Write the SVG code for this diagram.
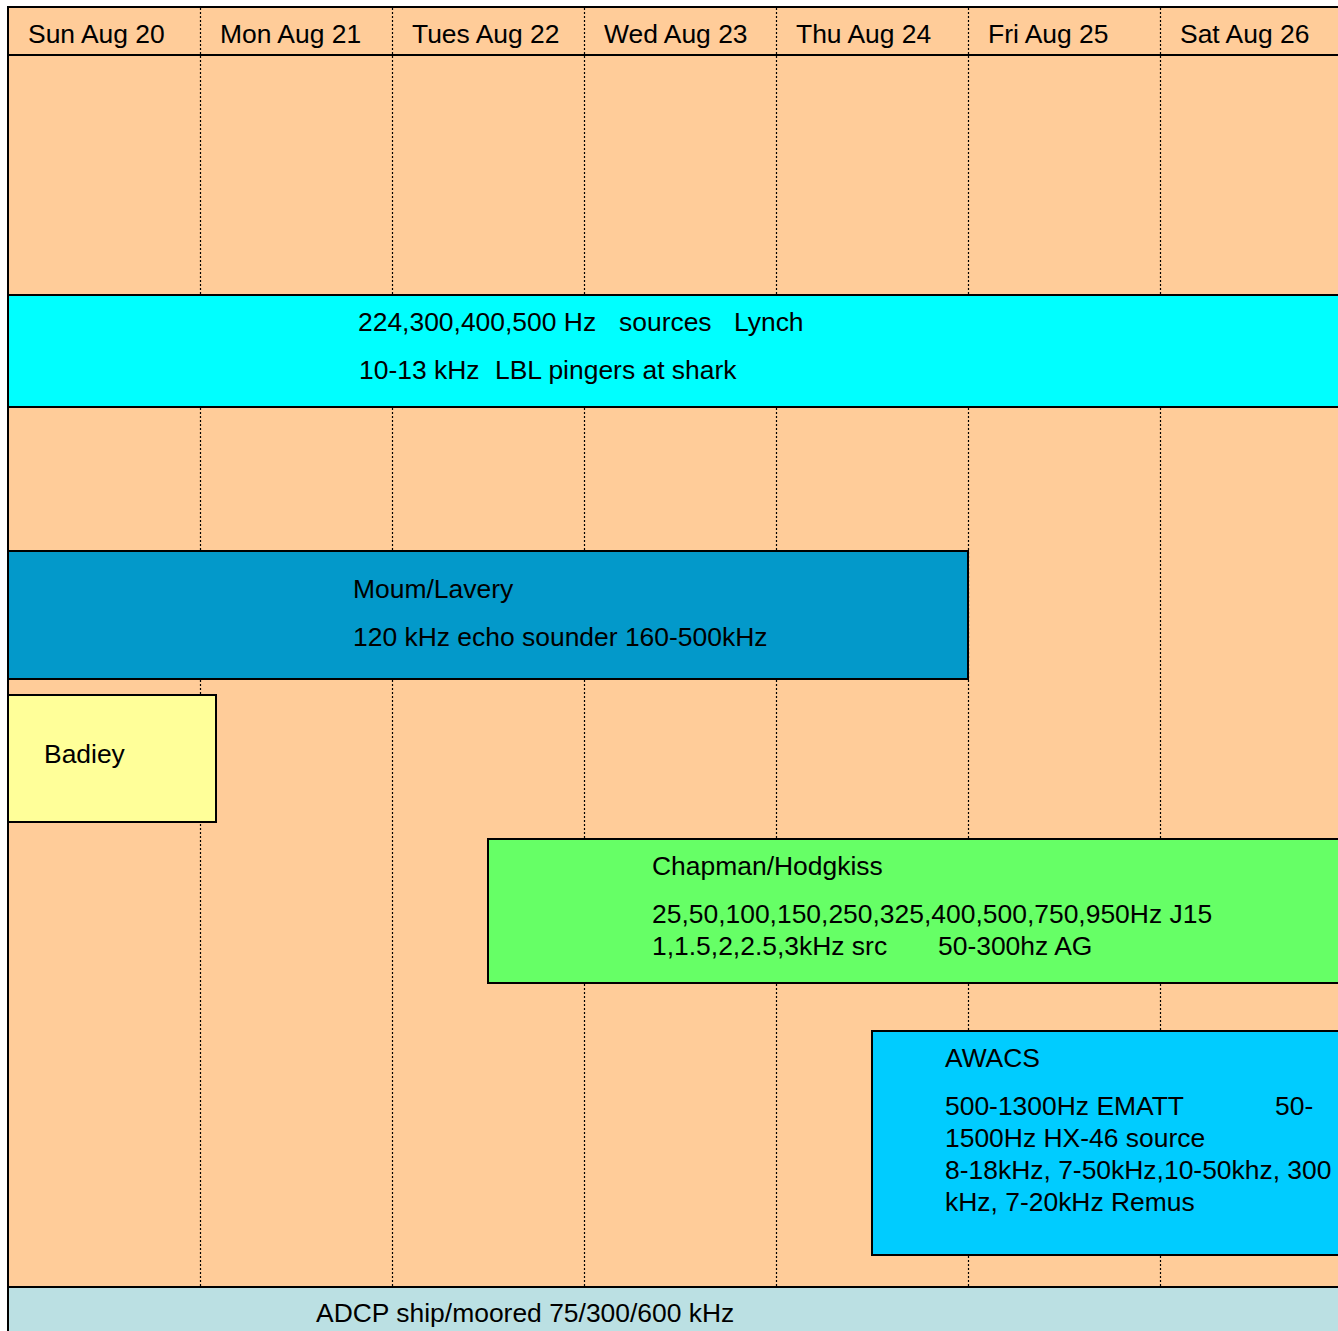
<svg xmlns="http://www.w3.org/2000/svg" width="1338" height="1331" viewBox="0 0 1338 1331">
<style>
text{font-family:"Liberation Sans",Arial,sans-serif;font-size:26.45px;fill:#000}
.grid{stroke:#000;stroke-width:1.2;stroke-dasharray:2,2;fill:none}
.box{stroke:#000;stroke-width:2}
</style>
<rect x="0" y="0" width="1338" height="1331" fill="#fff"/>
<rect id="background" x="8" y="7" width="1340" height="1330" fill="#FFCC99" stroke="#000" stroke-width="2"/>
<g id="gridlines">
<line class="grid" x1="200.5" y1="8" x2="200.5" y2="1287"/>
<line class="grid" x1="392.5" y1="8" x2="392.5" y2="1287"/>
<line class="grid" x1="584.5" y1="8" x2="584.5" y2="1287"/>
<line class="grid" x1="776.5" y1="8" x2="776.5" y2="1287"/>
<line class="grid" x1="968.5" y1="8" x2="968.5" y2="1287"/>
<line class="grid" x1="1160.5" y1="8" x2="1160.5" y2="1287"/>
</g>
<line x1="8" y1="55" x2="1338" y2="55" stroke="#000" stroke-width="2"/>
<g id="header">
<text x="28" y="43">Sun Aug 20</text>
<text x="220" y="43">Mon Aug 21</text>
<text x="412" y="43">Tues Aug 22</text>
<text x="604" y="43">Wed Aug 23</text>
<text x="796" y="43">Thu Aug 24</text>
<text x="988" y="43">Fri Aug 25</text>
<text x="1180" y="43">Sat Aug 26</text>
</g>
<g id="lynch">
<rect class="box" x="8" y="295" width="1340" height="112" fill="#00FFFF"/>
<text x="358" y="331">224,300,400,500 Hz<tspan x="619">sources</tspan><tspan x="734">Lynch</tspan></text>
<text x="359" y="379">10-13 kHz<tspan x="495">LBL pingers at shark</tspan></text>
</g>
<g id="moum">
<rect class="box" x="8" y="551" width="960" height="128" fill="#0399CA"/>
<text x="353" y="598">Moum/Lavery</text>
<text x="353" y="646">120 kHz echo sounder 160-500kHz</text>
</g>
<g id="badiey">
<rect class="box" x="8" y="695" width="208" height="127" fill="#FFFF99"/>
<text x="44" y="763">Badiey</text>
</g>
<g id="chapman">
<rect class="box" x="488" y="839" width="860" height="144" fill="#66FF66"/>
<text x="652" y="875">Chapman/Hodgkiss</text>
<text x="652" y="923">25,50,100,150,250,325,400,500,750,950Hz J15</text>
<text x="652" y="955">1,1.5,2,2.5,3kHz src<tspan x="938">50-300hz AG</tspan></text>
</g>
<g id="awacs">
<rect class="box" x="872" y="1031" width="476" height="224" fill="#00CCFF"/>
<text x="945" y="1067">AWACS</text>
<text x="945" y="1115">500-1300Hz EMATT<tspan x="1275">50-</tspan></text>
<text x="945" y="1147">1500Hz HX-46 source</text>
<text x="945" y="1179">8-18kHz, 7-50kHz,10-50khz, 300</text>
<text x="945" y="1211">kHz, 7-20kHz Remus</text>
</g>
<g id="adcp">
<rect class="box" x="8" y="1287" width="1340" height="60" fill="#BBE0E3"/>
<text x="316" y="1322">ADCP ship/moored 75/300/600 kHz</text>
</g>
<g id="connectors"></g>
</svg>
